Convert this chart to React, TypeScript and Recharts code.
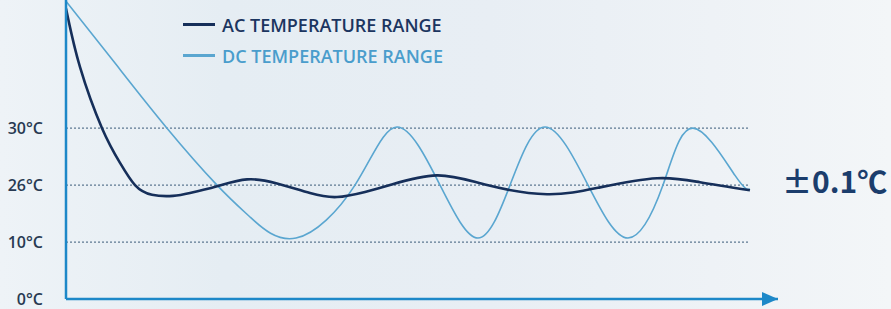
import React from 'react';
import { LineChart, Line, XAxis, YAxis, ReferenceLine, ReferenceDot } from 'recharts';

// y axis is drawn on evenly spaced levels, each level carries one label
const Y_TICKS = [0, 1, 2, 3];
const Y_LABELS = ['0°C', '10°C', '26°C', '30°C'];

const AC_T = [0, 2.05, 5.26, 7.89, 10.08, 12.56, 15.63, 18.11, 22.06, 26.44, 30.82, 35.64, 39.59, 43.68, 47.33, 54.19, 61.5, 70.26, 78.0, 86.33, 92.6, 99.9];
const AC_V = [5.1, 4.07, 3.0, 2.39, 2.0, 1.83, 1.81, 1.86, 1.98, 2.1, 2.03, 1.86, 1.79, 1.88, 2.0, 2.17, 2.0, 1.84, 1.96, 2.12, 2.05, 1.91];

const DC_T = [0, 7.3, 14.75, 22.06, 26.88, 33.6, 42.21, 48.35, 54.63, 60.18, 64.86, 69.97, 76.25, 82.09, 87.2, 91.59, 97.72, 99.91];
const DC_V = [5.23, 4.12, 3.0, 2.0, 1.44, 1.07, 2.0, 3.02, 2.0, 1.07, 2.0, 3.02, 2.0, 1.07, 2.0, 3.0, 2.17, 1.93];

const GRID_LEVELS = [1, 2, 3];

const AC_COLOR = '#162f5a';
const DC_COLOR = '#5aa6d0';
const AXIS_COLOR = '#1d88c8';

const acData = AC_T.map((t, i) => ({ t, v: AC_V[i] }));
const dcData = DC_T.map((t, i) => ({ t, v: DC_V[i] }));

const LEGEND = [
  { name: 'AC TEMPERATURE RANGE', color: AC_COLOR, text: '#1b3560' },
  { name: 'DC TEMPERATURE RANGE', color: DC_COLOR, text: '#4a9dcc' },
];

const Arrow = (p: any) => (
  <path
    d={`M${p.cx} ${p.cy} L${p.cx - 16} ${p.cy - 7} L${p.cx - 16} ${p.cy + 7} Z`}
    fill={AXIS_COLOR}
  />
);

export default function App() {
  return (
    <div
      style={{
        position: 'absolute', left: 0, top: 0, width: 891, height: 309, overflow: 'hidden',
        background: 'linear-gradient(90deg, #eef3f7 0%, #e5edf3 25%, #e8eef4 55%, #eef2f6 80%, #f3f6f8 100%)',
      }}
    >
      <LineChart width={891} height={309} margin={{ top: 0, right: 113, bottom: 0, left: 0 }}>
        <XAxis
          dataKey="t" type="number" domain={[0, 104]} allowDataOverflow
          height={10} tick={false} tickLine={false}
          axisLine={{ stroke: AXIS_COLOR, strokeWidth: 2.5 }}
        />
        <YAxis
          type="number" domain={[0, 5.25]} allowDataOverflow width={66}
          ticks={Y_TICKS} interval={0}
          tickFormatter={(v: number) => Y_LABELS[v]}
          tickLine={false} tickSize={0} tickMargin={23}
          tick={{ fill: '#283a52', fontSize: 16, fontWeight: 600, fontFamily: "'Open Sans', sans-serif" }}
          axisLine={{ stroke: AXIS_COLOR, strokeWidth: 2.5 }}
        />
        {GRID_LEVELS.map((lv) => (
          <ReferenceLine
            key={lv}
            segment={[{ x: 0, y: lv }, { x: 99.7, y: lv }]}
            stroke="#5d7891" strokeWidth={1.2} strokeDasharray="2 2"
          />
        ))}
        <Line data={dcData} dataKey="v" type="natural" stroke={DC_COLOR} strokeWidth={1.6} dot={false} isAnimationActive={false} />
        <Line data={acData} dataKey="v" type="natural" stroke={AC_COLOR} strokeWidth={2.6} dot={false} isAnimationActive={false} />
        <ReferenceDot x={104} y={0} r={0} ifOverflow="visible" shape={Arrow} />
      </LineChart>

      <div style={{ position: 'absolute', left: 183, top: 9, fontFamily: "'Open Sans', sans-serif", fontWeight: 600, fontSize: 18 }}>
        {LEGEND.map((l) => (
          <div key={l.name} style={{ display: 'flex', alignItems: 'center', height: 31, color: l.text }}>
            <span style={{ display: 'inline-block', width: 32, height: 2.5, background: l.color, marginRight: 7 }} />
            {l.name}
          </div>
        ))}
      </div>

      <div
        style={{
          position: 'absolute', left: 782, top: 162, fontFamily: "'Noto Sans CJK SC', sans-serif",
          fontWeight: 700, fontSize: 30, color: '#1b3d6c', lineHeight: '36px',
        }}
      >
        ±0.1℃
      </div>
    </div>
  );
}
